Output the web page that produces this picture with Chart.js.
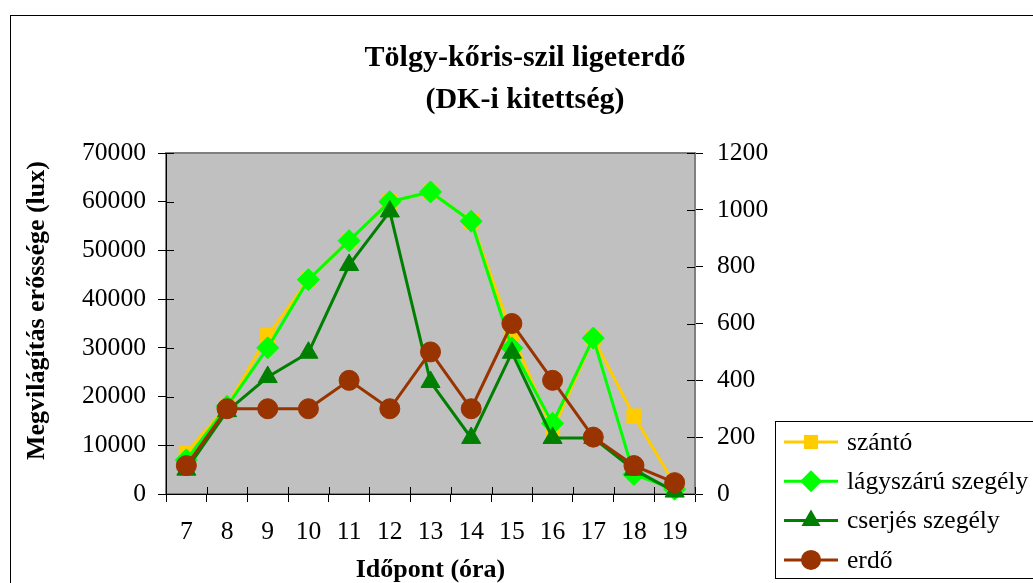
<!DOCTYPE html>
<html>
<head>
<meta charset="utf-8">
<script src="https://cdn.jsdelivr.net/npm/chart.js@4/dist/chart.umd.min.js"></script>
<style>
  html, body { margin: 0; padding: 0; background: #fff; }
  #wrap { width: 1033px; height: 583px; }
</style>
</head>
<body>
<div id="wrap"><canvas id="lightChart" width="1033" height="583"></canvas></div>
<script>
//! =============== Data =============== //
const hours = ['7', '8', '9', '10', '11', '12', '13', '14', '15', '16', '17', '18', '19'];

const szanto    = [8500, 18000, 32500, 44000, 52000, 60000, 62000, 56000, 33000, 13000, 32000, 16000, 2000];
const lagyszaru = [7000, 18000, 30000, 44000, 52000, 60000, 62000, 56000, 30000, 14500, 32000, 4000, 1000];
const cserjes   = [5000, 17000, 24000, 29000, 47000, 58000, 23000, 11500, 29000, 11500, 11500, 5000, 500];
const erdo      = [100, 300, 300, 300, 400, 300, 500, 300, 600, 400, 200, 100, 40];

const leftMax = 70000, leftStep = 10000;
const rightMax = 1200, rightStep = 200;

const seriesNames = ['szántó', 'lágyszárú szegély', 'cserjés szegély', 'erdő'];
const yTitle = 'Megvilágítás erőssége (lux)';

const SERIF = "'Liberation Serif', 'Times New Roman', serif";


//! =============== Helpers =============== //
function marker(ctx, style, r, x, y, color) {
  ctx.save();
  ctx.fillStyle = color;
  ctx.beginPath();
  if (style === 'rect') {
    const s = r * Math.SQRT1_2;
    ctx.rect(x - s, y - s, 2 * s, 2 * s);
  } else if (style === 'rectRot') {
    ctx.moveTo(x, y - r); ctx.lineTo(x + r, y); ctx.lineTo(x, y + r); ctx.lineTo(x - r, y);
    ctx.closePath();
  } else if (style === 'triangle') {
    ctx.moveTo(x, y - r);
    ctx.lineTo(x + Math.sin(2 * Math.PI / 3) * r, y + r / 2);
    ctx.lineTo(x - Math.sin(2 * Math.PI / 3) * r, y + r / 2);
    ctx.closePath();
  } else {
    ctx.arc(x, y, r, 0, Math.PI * 2);
  }
  ctx.fill();
  ctx.restore();
}

// background, outer frame, grey plot area
const frame = {
  id: 'frame',
  beforeDraw(chart) {
    const { ctx, chartArea: a } = chart;
    ctx.save();
    ctx.fillStyle = '#fff';
    ctx.fillRect(0, 0, chart.width, chart.height);
    ctx.strokeStyle = '#000';
    ctx.lineWidth = 1;
    ctx.strokeRect(10.5, 15.5, chart.width, chart.height);
    ctx.fillStyle = '#c0c0c0';
    ctx.fillRect(a.left, a.top, a.width, a.height);
    ctx.strokeStyle = '#808080';
    ctx.lineWidth = 2;
    ctx.strokeRect(a.left, a.top, a.width, a.height);
    ctx.restore();
  },
  afterDraw(chart) {
    const { ctx, chartArea: a, scales } = chart;
    ctx.save();
    // inner halves of the crossing tick marks
    ctx.strokeStyle = '#000';
    ctx.lineWidth = 1;
    ctx.beginPath();
    scales.y.ticks.forEach((t, i) => {
      const py = Math.round(scales.y.getPixelForTick(i)) + 0.5;
      ctx.moveTo(a.left, py); ctx.lineTo(a.left + 8, py);
    });
    scales.y1.ticks.forEach((t, i) => {
      const py = Math.round(scales.y1.getPixelForTick(i)) + 0.5;
      ctx.moveTo(a.right - 8, py); ctx.lineTo(a.right, py);
    });
    for (let i = 0; i <= hours.length; i++) {
      const px = Math.round(a.left + i * a.width / hours.length) + 0.5;
      ctx.moveTo(px, a.bottom - 7); ctx.lineTo(px, a.bottom);
    }
    ctx.stroke();

    // left axis title (Excel puts it a little above the plot centre)
    ctx.save();
    ctx.translate(37, a.top + a.height / 2 - 13);
    ctx.rotate(-Math.PI / 2);
    ctx.font = 'bold 26px ' + SERIF;
    ctx.fillStyle = '#000';
    ctx.textAlign = 'center';
    ctx.textBaseline = 'middle';
    ctx.fillText(yTitle, 0, 0);
    ctx.restore();

    // legend
    const lx = 775, ly = 421;
    ctx.strokeStyle = '#000';
    ctx.lineWidth = 1;
    ctx.strokeRect(lx + 0.5, ly + 0.5, 400, 157);
    ctx.font = '25.6px ' + SERIF;
    ctx.textBaseline = 'middle';
    ctx.textAlign = 'left';
    chart.data.datasets.forEach((ds, i) => {
      const yy = 442 + i * 39.3;
      ctx.strokeStyle = ds.borderColor;
      ctx.lineWidth = 3;
      ctx.beginPath();
      ctx.moveTo(784, yy); ctx.lineTo(838, yy);
      ctx.stroke();
      marker(ctx, ds.pointStyle, ds.pointRadius, 811, yy, ds.pointBackgroundColor);
      ctx.fillStyle = '#000';
      ctx.fillText(ds.label, 847, yy + 1);
    });
    ctx.restore();
  }
};


//! =============== Chart.JS =============== //
const ctx = document.getElementById('lightChart').getContext('2d');

function series(label, data, color, style, radius, axis, order) {
  return {
    label, data, yAxisID: axis, order,
    borderColor: color, backgroundColor: color,
    borderWidth: 3, tension: 0, fill: false, clip: false,
    pointStyle: style, pointRadius: radius, pointHoverRadius: radius,
    pointBackgroundColor: color, pointBorderColor: color, pointBorderWidth: 1
  };
}

new Chart(ctx, {
  type: 'line',
  data: {
    labels: hours,
    datasets: [
      series(seriesNames[0], szanto, '#FFCC00', 'rect', 10, 'y', 4),
      series(seriesNames[1], lagyszaru, '#00FF00', 'rectRot', 11, 'y', 3),
      series(seriesNames[2], cserjes, '#008000', 'triangle', 11, 'y', 2),
      series(seriesNames[3], erdo, '#993300', 'circle', 10, 'y1', 1)
    ]
  },
  options: {
    responsive: false,
    animation: false,
    devicePixelRatio: 1,
    layout: { padding: { left: 17, right: 0, top: 0, bottom: 0 } },
    plugins: {
      legend: { display: false },
      tooltip: { enabled: false },
      title: {
        display: true,
        text: ['Tölgy-kőris-szil ligeterdő', '(DK-i kitettség)'],
        color: '#000',
        font: { family: SERIF, size: 30, weight: 'bold', lineHeight: 1.4 },
        padding: { top: 37, bottom: 32 }
      }
    },
    scales: {
      x: {
        offset: true,
        grid: { offset: true, drawOnChartArea: false, drawTicks: true, tickLength: 8, color: '#000' },
        border: { color: '#000', width: 1 },
        ticks: { color: '#000', font: { family: SERIF, size: 25.6 }, padding: 15, maxRotation: 0, autoSkip: false },
        title: {
          display: true, text: 'Időpont (óra)', color: '#000',
          font: { family: SERIF, size: 26, weight: 'bold', lineHeight: 1 },
          padding: { top: 0, bottom: 0 }
        },
        afterFit(s) { s.height = 89; }
      },
      y: {
        position: 'left',
        min: 0, max: leftMax,
        grid: { drawOnChartArea: false, tickLength: 8, color: '#000' },
        border: { color: '#000', width: 1 },
        ticks: { stepSize: leftStep, color: '#000', font: { family: SERIF, size: 25.6 }, padding: 12, callback: v => String(v) },
        afterFit(s) { s.width = 149; }
      },
      y1: {
        position: 'right',
        min: 0, max: rightMax,
        grid: { drawOnChartArea: false, tickLength: 8, color: '#000' },
        border: { color: '#808080', width: 2 },
        ticks: { stepSize: rightStep, color: '#000', font: { family: SERIF, size: 25.6 }, padding: 14, callback: v => String(v) },
        afterFit(s) { s.width = 338; }
      }
    }
  },
  plugins: [frame]
});
</script>
</body>
</html>
